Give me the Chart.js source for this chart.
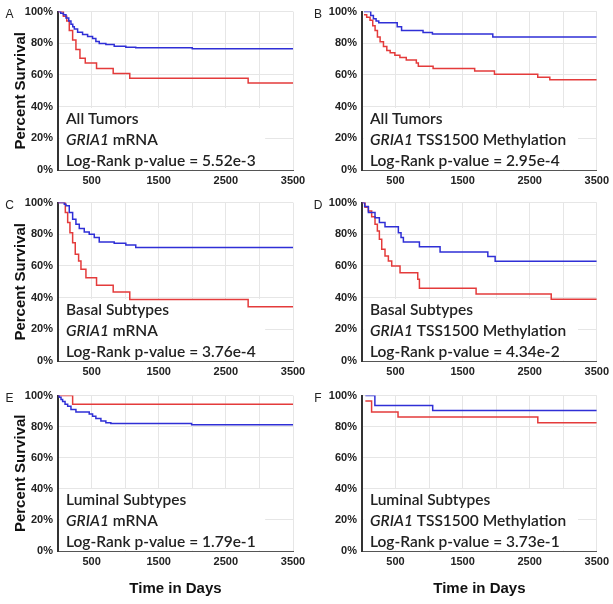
<!DOCTYPE html>
<html>
<head>
<meta charset="utf-8">
<script src="https://cdn.jsdelivr.net/npm/chart.js@4/dist/chart.umd.min.js"></script>
<style>
body { margin: 0; background: #fff; }
#wrap { position: relative; width: 613px; height: 604px; overflow: hidden; }
canvas { position: absolute; }
</style>
</head>
<body>
<div id="wrap">
  <canvas id="cA" width="312" height="192" style="left:0;top:0"></canvas>
  <canvas id="cB" width="313" height="192" style="left:300px;top:0"></canvas>
  <canvas id="cC" width="312" height="192" style="left:0;top:191px"></canvas>
  <canvas id="cD" width="313" height="192" style="left:300px;top:191px"></canvas>
  <canvas id="cE" width="312" height="220" style="left:0;top:384px"></canvas>
  <canvas id="cF" width="313" height="220" style="left:300px;top:384px"></canvas>
</div>
<script>
// tick labels
const xTickLabels = [500, 1500, 2500, 3500];
const yTickValues = [0, 20, 40, 60, 80, 100];

// panel text
const letters = ['A', 'B', 'C', 'D', 'E', 'F'];
const groups = ['All Tumors', 'All Tumors', 'Basal Subtypes', 'Basal Subtypes', 'Luminal Subtypes', 'Luminal Subtypes'];
const assays = [' mRNA', ' TSS1500 Methylation', ' mRNA', ' TSS1500 Methylation', ' mRNA', ' TSS1500 Methylation'];
const pValues = ['5.52e-3', '2.95e-4', '3.76e-4', '4.34e-2', '1.79e-1', '3.73e-1'];

// A - all tumors, mRNA
const aBlueDays = [0, 40, 80, 119, 160, 193, 220, 243, 292, 366, 441, 515, 564, 614, 713, 837, 1010, 1158, 2000, 3500];
const aBlueSurv = [100, 99, 98, 96, 94, 92, 90.5, 89, 87, 85.5, 84.3, 83, 81.2, 79.8, 79.2, 78.1, 77.5, 77.1, 76.5, 76.5];
const aRedDays = [0, 80, 130, 168, 218, 267, 327, 406, 574, 822, 1069, 2832, 3500];
const aRedSurv = [100, 97, 94, 88, 82, 76, 70.5, 67.5, 64, 61, 58, 55, 55];

// B - all tumors, methylation
const bBlueDays = [30, 130, 170, 210, 250, 525, 590, 910, 1050, 1950, 3500];
const bBlueSurv = [100, 97.5, 95.5, 94, 93, 90.5, 88, 86.8, 85.8, 84, 84];
const bRedDays = [30, 70, 120, 160, 195, 230, 270, 320, 370, 420, 490, 565, 660, 810, 840, 1060, 1680, 1975, 2620, 2800, 3500];
const bRedSurv = [98, 96.5, 94.5, 91, 88, 84, 81, 78, 75.5, 74, 72.5, 71, 69.5, 67.5, 65.5, 64, 62.5, 60.5, 58.5, 57, 57];

// C - basal, mRNA
const cBlueDays = [0, 94, 119, 168, 218, 267, 317, 391, 465, 540, 614, 837, 1010, 1158, 3500];
const cBlueSurv = [100, 99, 98, 93.7, 89.5, 86.3, 83.6, 81.5, 80, 78, 75.2, 74.3, 73.3, 71.6, 71.6];
const cRedDays = [0, 109, 144, 178, 218, 257, 307, 342, 416, 574, 822, 1069, 2832, 3500];
const cRedSurv = [100, 93.7, 87.4, 81, 74.7, 67.4, 63.2, 58, 52.6, 47.8, 43.6, 38.9, 34.3, 34.3];

// D - basal, methylation
const dBlueDays = [0, 40, 95, 194, 259, 343, 542, 582, 617, 856, 1164, 1876, 1985, 3500];
const dBlueSurv = [100, 97.5, 93.7, 90.5, 87.4, 84.8, 81, 77.9, 75.2, 72.2, 68.8, 65.9, 63, 63];
const dRedDays = [0, 45, 95, 144, 194, 229, 259, 294, 343, 393, 443, 567, 831, 856, 1701, 2821, 3500];
const dRedSurv = [100, 97, 94.7, 91, 86.3, 82.1, 76.8, 70.5, 66.3, 63.2, 60, 55.7, 51.6, 46, 42.3, 39, 39];

// E - luminal, mRNA
const eBlueDays = [0, 20, 45, 69, 105, 144, 193, 267, 465, 515, 564, 639, 713, 787, 1990, 3500];
const eBlueSurv = [100, 99, 97.5, 96.2, 94.5, 93.1, 91, 89.5, 88.2, 86.7, 85.3, 83.6, 82.5, 82.1, 81.3, 81.3];
const eRedDays = [0, 218, 3500];
const eRedSurv = [100, 94.5, 94.5];

// F - luminal, methylation
const fBlueDays = [50, 192, 1054, 3500];
const fBlueSurv = [100, 93.6, 90.4, 90.4];
const fRedDays = [50, 143, 537, 2621, 3500];
const fRedSurv = [96.5, 89.4, 86.2, 82.6, 82.6];

const RED = '#e43b3b';
const BLUE = '#2f2fd6';
const TICK_FONT = { family: 'Liberation Sans, Arial, sans-serif', size: 11, weight: 'bold' };
const NOTE_FONT = '600 15.5px Lato, "Open Sans", sans-serif';
const NOTE_FONT_IT = 'italic 600 15.5px Lato, "Open Sans", sans-serif';

function pts(days, surv) {
  return days.map((d, i) => ({ x: d, y: surv[i] }));
}

// white box + 3 text lines inside the plot, panel letter at top-left
const notePlugin = {
  id: 'note',
  beforeDatasetsDraw(chart, args, opts) {
    const { ctx, chartArea } = chart;
    ctx.save();
    ctx.font = NOTE_FONT;
    const w = Math.max(...opts.lines.map(l => ctx.measureText(l).width));
    ctx.fillStyle = '#fff';
    ctx.fillRect(chartArea.left + 1.5, chartArea.bottom - 62, w + 16, 61.5);
    ctx.restore();
  },
  afterDatasetsDraw(chart, args, opts) {
    const { ctx, chartArea } = chart;
    const x0 = chartArea.left + 8;
    const b = chartArea.bottom;
    ctx.save();
    ctx.fillStyle = '#222';
    ctx.textBaseline = 'middle';
    ctx.textAlign = 'left';
    ctx.font = NOTE_FONT;
    ctx.fillText(opts.group, x0, b - 51);
    ctx.font = NOTE_FONT_IT;
    ctx.fillText('GRIA1', x0, b - 30);
    const gw = ctx.measureText('GRIA1').width;
    ctx.font = NOTE_FONT;
    ctx.fillText(opts.assay, x0 + gw, b - 30);
    ctx.fillText('Log-Rank p-value = ' + opts.p, x0, b - 9.5);
    ctx.restore();
  },
  afterDraw(chart, args, opts) {
    const { ctx, chartArea } = chart;
    ctx.save();
    ctx.fillStyle = '#222';
    ctx.font = '12px Liberation Sans, Arial, sans-serif';
    ctx.textAlign = 'center';
    ctx.textBaseline = 'middle';
    ctx.fillText(opts.letter, opts.letterX, chartArea.top + 3);
    ctx.restore();
  }
};

const series = [
  [aBlueDays, aBlueSurv, aRedDays, aRedSurv],
  [bBlueDays, bBlueSurv, bRedDays, bRedSurv],
  [cBlueDays, cBlueSurv, cRedDays, cRedSurv],
  [dBlueDays, dBlueSurv, dRedDays, dRedSurv],
  [eBlueDays, eBlueSurv, eRedDays, eRedSurv],
  [fBlueDays, fBlueSurv, fRedDays, fRedSurv]
];

series.forEach((s, i) => {
  const leftCol = i % 2 === 0;
  const bottomRow = i >= 4;
  const lines = [groups[i], 'GRIA1' + assays[i], 'Log-Rank p-value = ' + pValues[i]];

  new Chart(document.getElementById('c' + letters[i]), {
    type: 'line',
    data: {
      datasets: [
        { data: pts(s[0], s[1]), borderColor: BLUE, borderWidth: 1.5, stepped: true, pointRadius: 0, fill: false },
        { data: pts(s[2], s[3]), borderColor: RED, borderWidth: 1.5, stepped: true, pointRadius: 0, fill: false }
      ]
    },
    options: {
      responsive: false,
      animation: false,
      events: [],
      layout: { padding: { top: 10, right: leftCol ? 19 : 15, left: 0, bottom: 0 } },
      plugins: {
        legend: { display: false },
        tooltip: { enabled: false },
        note: {
          letter: letters[i],
          letterX: leftCol ? 9.5 : 18,
          group: groups[i],
          assay: assays[i],
          p: pValues[i],
          lines: lines
        }
      },
      scales: {
        x: {
          type: 'linear',
          min: 0,
          max: 3500,
          ticks: {
            stepSize: 500,
            autoSkip: false,
            maxRotation: 0,
            padding: 4,
            color: '#222',
            font: TICK_FONT,
            callback: v => xTickLabels.includes(v) ? String(v) : ''
          },
          grid: { color: '#e6e6e6', drawTicks: false },
          border: { display: true, color: '#555', width: 1 },
          title: {
            display: bottomRow,
            text: 'Time in Days',
            color: '#111',
            font: { family: 'Liberation Sans, Arial, sans-serif', size: 15, weight: 'bold' },
            padding: { top: 0, bottom: 6 }
          },
          afterFit: sc => { sc.height = bottomRow ? 53 : 22; }
        },
        y: {
          min: 0,
          max: 100,
          afterBuildTicks: sc => { sc.ticks = yTickValues.map(v => ({ value: v })); },
          ticks: {
            padding: 5,
            color: '#222',
            font: TICK_FONT,
            callback: v => v + '%'
          },
          grid: { color: '#e6e6e6', drawTicks: false },
          border: { display: true, color: '#333', width: 2 },
          title: {
            display: leftCol,
            text: 'Percent Survival',
            color: '#111',
            font: { family: 'Liberation Sans, Arial, sans-serif', size: 15, weight: 'bold' },
            padding: { top: 12, bottom: 0 }
          },
          afterFit: sc => { sc.width = leftCol ? 58 : 62; }
        }
      }
    },
    plugins: [notePlugin]
  });
});
</script>
</body>
</html>
